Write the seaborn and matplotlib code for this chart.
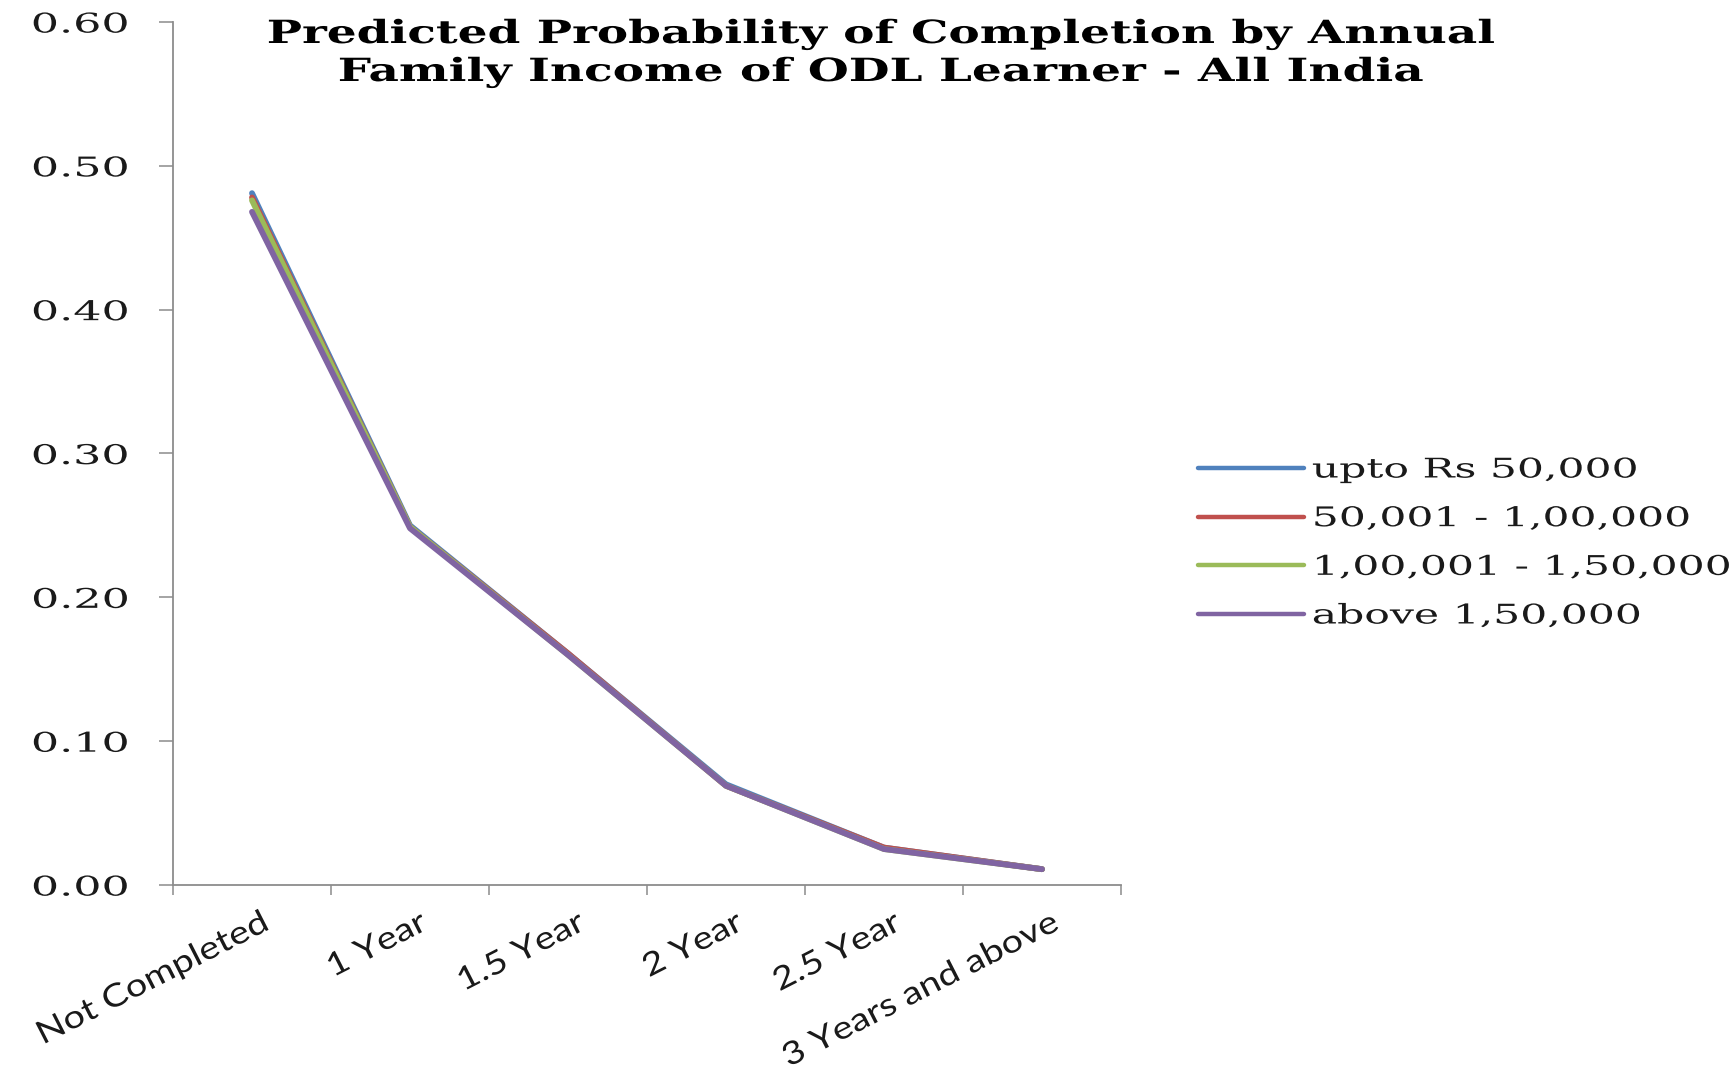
import numpy as np
import pandas as pd
import matplotlib
matplotlib.use("Agg")
import matplotlib.pyplot as plt
import seaborn as sns
from matplotlib.patheffects import AbstractPathEffect
from matplotlib.transforms import Affine2D, ScaledTranslation
from matplotlib.textpath import TextPath
from matplotlib.font_manager import FontProperties

# ---------------- data ----------------
categories = ["Not Completed", "1 Year", "1.5 Year", "2 Year", "2.5 Year", "3 Years and above"]
series_names = ["upto Rs 50,000", "50,001 - 1,00,000", "1,00,001 - 1,50,000", "above 1,50,000"]
upto_50k = [0.481, 0.250, 0.161, 0.070, 0.026, 0.011]
from_50k_to_1l = [0.478, 0.249, 0.161, 0.069, 0.026, 0.011]
from_1l_to_150k = [0.476, 0.249, 0.160, 0.069, 0.025, 0.011]
above_150k = [0.468, 0.248, 0.160, 0.069, 0.025, 0.011]
y_ticks = [0.0, 0.1, 0.2, 0.3, 0.4, 0.5, 0.6]
title_lines = ["Predicted Probability of Completion by Annual",
               "Family Income of ODL Learner - All India"]
colors = ["#4F81BD", "#C0504D", "#9BBB59", "#8064A2"]

W, H, DPI = 1732, 1069, 100


class Stretch(AbstractPathEffect):
    """Horizontally stretch text glyphs (the reference uses a widened font)."""
    def __init__(self, sx, anchor="left"):
        super().__init__()
        self.sx = sx
        self.anchor = anchor

    def draw_path(self, renderer, gc, tpath, affine, rgbFace=None):
        ext = tpath.get_extents()
        if self.anchor == "left":
            x0 = 0.0
        elif self.anchor == "right":
            x0 = ext.x1
        else:
            x0 = (ext.x0 + ext.x1) / 2
        t = Affine2D().translate(-x0, 0).scale(self.sx, 1).translate(x0, 0)
        renderer.draw_path(gc, tpath, t + affine, rgbFace)


def natural_px(s, family, size, weight="normal"):
    fp = FontProperties(family=family, size=size, weight=weight)
    tp = TextPath((0, 0), s, size=size, prop=fp)
    return tp.get_extents().width * DPI / 72.0


sns.set_theme(style="ticks")
plt.rcParams["font.family"] = ["DejaVu Serif"]

long = pd.DataFrame({
    "duration": categories * 4,
    "prob": upto_50k + from_50k_to_1l + from_1l_to_150k + above_150k,
    "income": sum([[n] * len(categories) for n in series_names], []),
})

fig = plt.figure(figsize=(W / DPI, H / DPI), dpi=DPI)
fig.patch.set_facecolor("white")
ax = fig.add_axes([173 / W, 1 - 885 / H, (1121 - 173) / W, (885 - 22) / H])
ax.set_facecolor("white")

sns.lineplot(data=long, x="duration", y="prob", hue="income", hue_order=series_names,
             palette=colors, linewidth=4.2, sort=False, ax=ax, legend=True)

ax.set_xlim(-0.5, len(categories) - 0.5)
ax.set_ylim(0, 0.6)
ax.set_xlabel("")
ax.set_ylabel("")

axis_grey = "#8C8C8C"
for side in ["top", "right"]:
    ax.spines[side].set_visible(False)
for side in ["left", "bottom"]:
    ax.spines[side].set_color(axis_grey)
    ax.spines[side].set_linewidth(1.3)

# y axis
ax.set_yticks(y_ticks)
ax.set_yticklabels([f"{v:.2f}" for v in y_ticks])
ax.tick_params(axis="y", direction="out", length=10, width=1.1, color=axis_grey,
               pad=22, labelsize=19.5, labelcolor="#1a1a1a")

# x axis: major ticks at category boundaries, labels at centres
ax.set_xticks(np.arange(-0.5, len(categories), 1.0))
ax.set_xticklabels([])
ax.set_xticks(np.arange(len(categories)), minor=True)
ax.set_xticklabels(categories, minor=True)
ax.tick_params(axis="x", which="major", direction="out", length=7, width=1.1, color=axis_grey)
ax.tick_params(axis="x", which="minor", length=0, pad=16)

xrot = 27
xfs = 23
sx_x = 250 / natural_px("Not Completed", "Lato", xfs)
for lbl in ax.get_xticklabels(minor=True):
    lbl.set_fontfamily("Lato")
    lbl.set_fontsize(xfs)
    lbl.set_color("#1a1a1a")
    lbl.set_rotation(xrot)
    lbl.set_rotation_mode("anchor")
    lbl.set_ha("right")
    lbl.set_va("top")
    lbl.set_transform(lbl.get_transform() + ScaledTranslation(8 / DPI, 0, fig.dpi_scale_trans))
    lbl.set_path_effects([Stretch(sx_x, "right")])

sx_y = 93 / natural_px("0.60", "DejaVu Serif", 19.5)
for lbl in ax.get_yticklabels():
    lbl.set_fontfamily("DejaVu Serif")
    lbl.set_path_effects([Stretch(sx_y, "right")])

# legend
sns.move_legend(ax, "center left", bbox_to_anchor=(1198 / W, 1 - 543 / H),
                bbox_transform=fig.transFigure, frameon=False, title=None,
                fontsize=19.5, handlelength=3.9, handletextpad=0.3,
                labelspacing=0.8, borderaxespad=0, borderpad=0)
leg = ax.get_legend()
sx_leg = 412 / natural_px("1,00,001 - 1,50,000", "DejaVu Serif", 19.5)
for t in leg.get_texts():
    t.set_fontfamily("DejaVu Serif")
    t.set_color("#1a1a1a")
    t.set_path_effects([Stretch(sx_leg, "left")])
for h in leg.legend_handles:
    h.set_linewidth(3.2)

# title (two centred lines)
tfs = 23
sx_t = 1225 / natural_px(title_lines[0], "DejaVu Serif", tfs, "bold")
for line, base in zip(title_lines, [43, 81]):
    fig.text(881 / W, 1 - base / H, line, ha="center", va="baseline",
             fontsize=tfs, fontweight="bold", fontfamily="DejaVu Serif", color="black",
             path_effects=[Stretch(sx_t, "center")])

fig.savefig("out.png", dpi=DPI, facecolor="white")
